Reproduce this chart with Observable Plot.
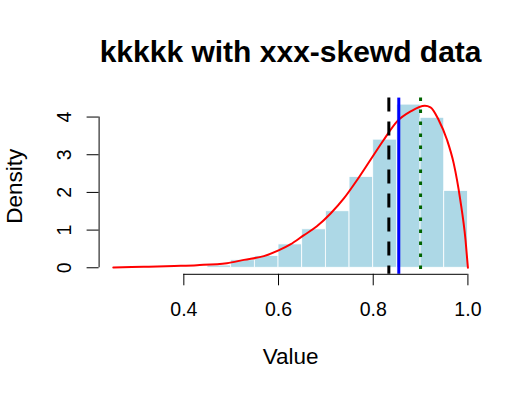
<!DOCTYPE html>
<html>
<head>
<meta charset="utf-8">
<script src="https://cdn.jsdelivr.net/npm/d3@7"></script>
<script src="https://cdn.jsdelivr.net/npm/@observablehq/plot@0.6"></script>
<style>
  html, body { margin: 0; padding: 0; background: #fff; }
  #chart { width: 532px; height: 396px; }
</style>
</head>
<body>
<div id="chart"></div>
<script>
// ---- data ----
const titleText = "kkkkk with xxx-skewd data";
const xLabel = "Value";
const yLabel = "Density";

// histogram (density scale), bin edges of width 0.05
const binStarts = [0.45, 0.50, 0.55, 0.60, 0.65, 0.70, 0.75, 0.80, 0.85, 0.90, 0.95];
const binEnds   = [0.50, 0.55, 0.60, 0.65, 0.70, 0.75, 0.80, 0.85, 0.90, 0.95, 1.00];
const binDensity = [0.06, 0.20, 0.31, 0.62, 1.02, 1.50, 2.41, 3.40, 4.33, 3.98, 2.04];

// kernel density curve
const curveX = [0.251, 0.290, 0.326, 0.380, 0.428, 0.491, 0.527, 0.569, 0.600, 0.625, 0.653, 0.681,
                0.710, 0.738, 0.766, 0.794, 0.822, 0.850, 0.879, 0.909, 0.921, 0.938, 0.956,
                0.970, 0.984, 0.995, 1.000];
const curveY = [0.01, 0.02, 0.03, 0.05, 0.07, 0.12, 0.21, 0.31, 0.46, 0.62, 0.86, 1.10,
                1.44, 1.84, 2.33, 2.86, 3.39, 3.88, 4.15, 4.30, 4.26, 3.93, 3.39,
                2.77, 1.79, 0.73, 0.00];

// reference lines
const meanValue = 0.833;
const medianValue = 0.854;
const modeValue = 0.900;

// ticks
const xTicks = [0.4, 0.6, 0.8, 1.0];
const yTicks = [0, 1, 2, 3, 4];

// ---- build ----
const bins = binStarts.map((s, i) => ({x1: s, x2: binEnds[i], y: binDensity[i]}));
const curve = curveX.map((x, i) => ({x, y: curveY[i]}));

// R-style 4% axis extension
const xExt = d3.extent(curveX.concat(binStarts, binEnds));
const xPad = (xExt[1] - xExt[0]) * 0.04;
const xDomain = [xExt[0] - xPad, xExt[1] + xPad];
const yMax = Math.max(d3.max(binDensity), d3.max(curveY));
const yPad = yMax * 0.04;
const yDomain = [-yPad, yMax + yPad];

const font = "'Liberation Sans', Arial, Helvetica, sans-serif";

const chart = Plot.plot({
  width: 532,
  height: 396,
  marginLeft: 98.6,
  marginRight: 50.4,
  marginTop: 97.6,
  marginBottom: 122.2,
  style: {fontFamily: font, background: "#fff", color: "#000"},
  x: {domain: xDomain, axis: null},
  y: {domain: yDomain, axis: null},
  marks: [
    Plot.rectY(bins, {x1: "x1", x2: "x2", y1: 0, y2: "y", fill: "#ADD8E6", stroke: "#fff", strokeWidth: 0.8}),
    Plot.line(curve, {x: "x", y: "y", stroke: "#FF0000", strokeWidth: 2, curve: "monotone-x"}),
    Plot.ruleX([meanValue], {stroke: "#000", strokeWidth: 3, strokeDasharray: "14,10"}),
    Plot.ruleX([medianValue], {stroke: "#0000FF", strokeWidth: 3}),
    Plot.ruleX([modeValue], {stroke: "#006400", strokeWidth: 3, strokeDasharray: "3.5,8.5"}),
    // axes lines
    Plot.ruleY([yDomain[0]], {x1: xTicks[0], x2: xTicks[xTicks.length - 1], stroke: "#000", strokeWidth: 1}),
    Plot.ruleX([xDomain[0]], {y1: yTicks[0], y2: yTicks[yTicks.length - 1], stroke: "#000", strokeWidth: 1}),
    // ticks
    Plot.axisX({ticks: xTicks, tickSize: 11.5, tickFormat: () => "", label: null}),
    Plot.axisY({ticks: yTicks, tickSize: 12, tickFormat: () => "", label: null}),
    // tick labels
    Plot.text(xTicks, {x: d => d, text: d => d.toFixed(1), frameAnchor: "bottom", lineAnchor: "bottom",
      textAnchor: "middle", dy: 41.2, fontSize: 19.5, fontFamily: font, fill: "#000"}),
    Plot.text(yTicks, {y: d => d, text: d => String(d), frameAnchor: "left", lineAnchor: "bottom",
      textAnchor: "middle", dx: -28.6, rotate: -90, fontSize: 19.5, fontFamily: font, fill: "#000"}),
    // axis titles
    Plot.text([xLabel], {text: d => d, frameAnchor: "bottom", lineAnchor: "bottom", textAnchor: "middle",
      dy: 89.5, fontSize: 22.5, fontFamily: font, fill: "#000"}),
    Plot.text([yLabel], {text: d => d, frameAnchor: "left", lineAnchor: "bottom", textAnchor: "middle",
      dx: -77, rotate: -90, fontSize: 22.5, fontFamily: font, fill: "#000"}),
    // title
    Plot.text([titleText], {text: d => d, frameAnchor: "top", lineAnchor: "bottom", textAnchor: "middle",
      dy: -36.6, fontSize: 30, fontWeight: "bold", fontFamily: font, fill: "#000"})
  ]
});
document.getElementById("chart").appendChild(chart);
</script>
</body>
</html>
